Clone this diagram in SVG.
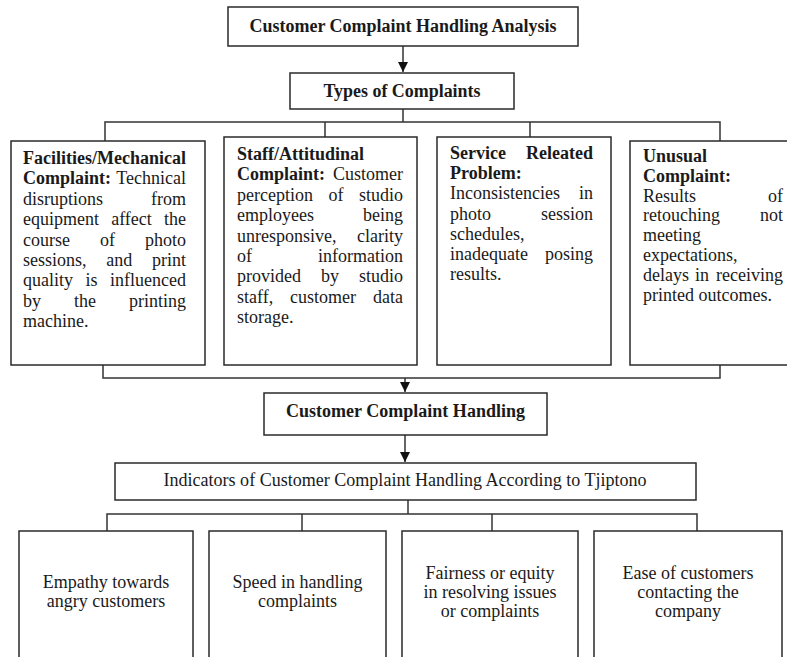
<svg xmlns="http://www.w3.org/2000/svg" width="787" height="657" viewBox="0 0 787 657">
<style>
.box{fill:#fff;stroke:#2a2a2a;stroke-width:1.5}
.conn{fill:none;stroke:#333;stroke-width:1.5}
text{font-family:'Liberation Serif',Tinos,'Times New Roman','DejaVu Serif',serif;font-size:18px;fill:#1a1a1a}
.b{font-weight:bold}
.e{text-anchor:end}
.m{text-anchor:middle}
</style>
<defs>
<marker id="arr" markerUnits="userSpaceOnUse" markerWidth="10" markerHeight="12" refX="10" refY="5" orient="auto">
<path d="M0,0 L10,5 L0,10 z" fill="#111"/>
</marker>
</defs>
<rect width="787" height="657" fill="#fff"/>

<g id="connectors">
<line class="conn" x1="403" y1="46" x2="403" y2="72" marker-end="url(#arr)"/>
<polyline class="conn" points="403,109 403,122"/>
<polyline class="conn" points="105,141 105,122 720,122 720,141"/>
<line class="conn" x1="325" y1="122" x2="325" y2="137"/>
<line class="conn" x1="530" y1="122" x2="530" y2="137"/>
<polyline class="conn" points="103,365 103,378 720,378 720,365"/>
<line class="conn" x1="405" y1="378" x2="405" y2="392" marker-end="url(#arr)"/>
<line class="conn" x1="405" y1="435" x2="405" y2="462" marker-end="url(#arr)"/>
<polyline class="conn" points="408,500 408,514"/>
<polyline class="conn" points="107,531 107,514 697,514 697,531"/>
<line class="conn" x1="302" y1="514" x2="302" y2="531"/>
<line class="conn" x1="492" y1="514" x2="492" y2="531"/>
</g>

<g id="title">
<rect class="box" x="228" y="7" width="350" height="39"/>
<text class="b m" x="403" y="32" font-size="18.5" textLength="307" lengthAdjust="spacingAndGlyphs">Customer Complaint Handling Analysis</text>
</g>

<g id="types">
<rect class="box" x="290" y="73" width="224" height="36"/>
<text class="b m" x="402" y="97" font-size="18.5" textLength="157" lengthAdjust="spacingAndGlyphs">Types of Complaints</text>
</g>

<g id="facilities">
<rect class="box" x="11" y="141" width="194" height="224"/>
<text class="b" x="23" y="164">Facilities/Mechanical</text>
<text class="b" x="23" y="184.4">Complaint:</text><text class="e" x="186" y="184.4">Technical</text>
<text x="23" y="204.8">disruptions</text><text class="e" x="186" y="204.8">from</text>
<text x="23" y="225.2">equipment</text><text class="m" x="131.5" y="225.2">affect</text><text class="e" x="186" y="225.2">the</text>
<text x="23" y="245.6">course</text><text class="m" x="107.5" y="245.6">of</text><text class="e" x="186" y="245.6">photo</text>
<text x="23" y="266">sessions,</text><text class="m" x="119.3" y="266">and</text><text class="e" x="186" y="266">print</text>
<text x="23" y="286.4">quality</text><text class="m" x="91.5" y="286.4">is</text><text class="e" x="186" y="286.4">influenced</text>
<text x="23" y="306.8">by</text><text class="m" x="85" y="306.8">the</text><text class="e" x="186" y="306.8">printing</text>
<text x="23" y="327.2">machine.</text>
</g>

<g id="staff">
<rect class="box" x="224" y="137" width="193" height="228"/>
<text class="b" x="237" y="160">Staff/Attitudinal</text>
<text class="b" x="237" y="180.4">Complaint:</text><text class="e" x="403" y="180.4">Customer</text>
<text x="237" y="200.8">perception</text><text class="m" x="336" y="200.8">of</text><text class="e" x="403" y="200.8">studio</text>
<text x="237" y="221.2">employees</text><text class="e" x="403" y="221.2">being</text>
<text x="237" y="241.6">unresponsive,</text><text class="e" x="403" y="241.6">clarity</text>
<text x="237" y="262">of</text><text class="e" x="403" y="262">information</text>
<text x="237" y="282.4">provided</text><text class="m" x="330" y="282.4">by</text><text class="e" x="403" y="282.4">studio</text>
<text x="237" y="302.8">staff,</text><text class="m" x="323" y="302.8">customer</text><text class="e" x="403" y="302.8">data</text>
<text x="237" y="323.2">storage.</text>
</g>

<g id="service">
<rect class="box" x="437" y="137" width="174" height="228"/>
<text class="b" x="450" y="159">Service</text><text class="b e" x="593" y="159">Releated</text>
<text class="b" x="450" y="179.2">Problem:</text>
<text x="450" y="199.4">Inconsistencies</text><text class="e" x="593" y="199.4">in</text>
<text x="450" y="219.6">photo</text><text class="e" x="593" y="219.6">session</text>
<text x="450" y="239.8">schedules,</text>
<text x="450" y="260">inadequate</text><text class="e" x="593" y="260">posing</text>
<text x="450" y="280.2">results.</text>
</g>

<g id="unusual">
<rect class="box" x="630" y="141" width="170" height="224"/>
<text class="b" x="643" y="162">Unusual</text>
<text class="b" x="643" y="181.8">Complaint:</text>
<text x="643" y="201.6">Results</text><text class="e" x="783" y="201.6">of</text>
<text x="643" y="221.4">retouching</text><text class="e" x="783" y="221.4">not</text>
<text x="643" y="241.2">meeting</text>
<text x="643" y="261">expectations,</text>
<text x="643" y="280.8">delays</text><text class="m" x="702" y="280.8">in</text><text class="e" x="783" y="280.8">receiving</text>
<text x="643" y="300.6">printed outcomes.</text>
</g>

<g id="handling">
<rect class="box" x="264" y="393" width="283" height="42"/>
<text class="b m" x="405.5" y="417" font-size="18.5" textLength="239" lengthAdjust="spacingAndGlyphs">Customer Complaint Handling</text>
</g>

<g id="indicators">
<rect class="box" x="115" y="463" width="581" height="37"/>
<text class="m" x="405" y="486" font-size="18.5" textLength="483" lengthAdjust="spacingAndGlyphs">Indicators of Customer Complaint Handling According to Tjiptono</text>
</g>

<g id="empathy">
<rect class="box" x="19" y="531" width="174" height="134"/>
<text class="m" x="106" y="588">Empathy towards</text>
<text class="m" x="106" y="607">angry customers</text>
</g>

<g id="speed">
<rect class="box" x="209" y="531" width="177" height="134"/>
<text class="m" x="297.5" y="588">Speed in handling</text>
<text class="m" x="297.5" y="607">complaints</text>
</g>

<g id="fairness">
<rect class="box" x="402" y="531" width="176" height="134"/>
<text class="m" x="490" y="579">Fairness or equity</text>
<text class="m" x="490" y="598">in resolving issues</text>
<text class="m" x="490" y="617">or complaints</text>
</g>

<g id="ease">
<rect class="box" x="594" y="531" width="188" height="134"/>
<text class="m" x="688" y="579">Ease of customers</text>
<text class="m" x="688" y="598">contacting the</text>
<text class="m" x="688" y="617">company</text>
</g>
</svg>
